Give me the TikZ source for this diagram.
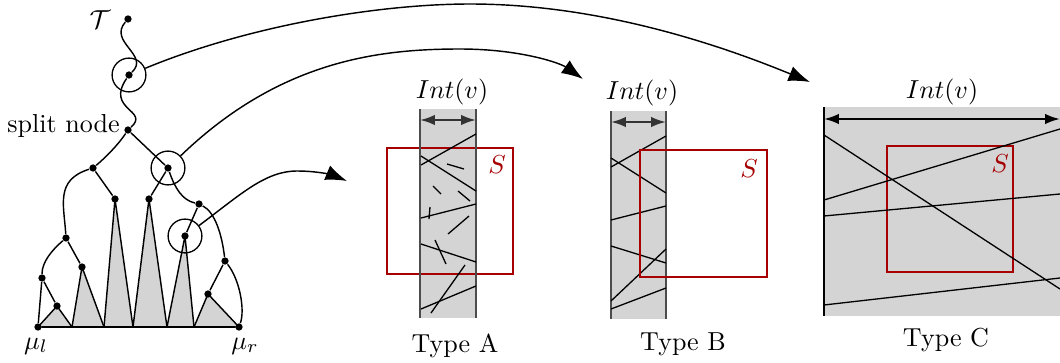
\documentclass[tikz,border=0pt]{standalone}
\usetikzlibrary{arrows.meta,backgrounds}

\begin{document}
\begin{tikzpicture}[x=0.0135cm,y=-0.0135cm,
    dot/.style={circle,fill=black,inner sep=0pt,minimum size=2.8pt},
    ring/.style={circle,draw,inner sep=0pt,minimum size=13pt,line width=0.5pt},
    link/.style={line width=0.55pt},
    cone/.style={fill=black!17,draw,line width=0.55pt,line join=round},
    seg/.style={line width=0.5pt},
    wall/.style={draw=black!70,line width=0.8pt},
    query/.style={draw=red!65!black,line width=0.4pt},
    intarrow/.style={{Latex[length=2mm,width=1.4mm]}-{Latex[length=2mm,width=1.4mm]},line width=0.8pt},
    bigarrow/.style={-{Latex[length=2.9mm,width=2.1mm]},line width=0.55pt},
]
\useasboundingbox (0,0) rectangle (1060,363);

% tree nodes
\node[dot] (vT)  at (128,19)  {};
\node[dot] (v1)  at (129,75)  {};
\node[dot] (vs)  at (128,130) {};
\node[dot] (vl)  at (93,168)  {};
\node[dot] (vr)  at (168,168) {};
\node[dot] (vlm) at (115,199) {};
\node[dot] (vrm) at (149,199) {};
\node[dot] (vll) at (66,238)  {};
\node[dot] (vrr) at (199,204) {};
\node[dot] (vq)  at (185,236) {};
\node[dot] (vx)  at (42,278)  {};
\node[dot] (vy)  at (82,267)  {};
\node[dot] (vz)  at (57,306)  {};
\node[dot] (vu)  at (225,261) {};
\node[dot] (vw)  at (208,294) {};
\node[dot] (ml)  at (38,327)  {};
\node[dot] (mr)  at (239,327) {};

\node at (100,20) {$\mathcal{T}$};
\node[anchor=base east,inner sep=0pt] (splitlbl) at ([xshift=-3pt,yshift=-0.8pt]vs.center) {split node};
\node (mulbl) at (36,346) {$\mu_l$};
\node (murbl) at (245,346) {$\mu_r$};

% subtrees
\begin{scope}[on background layer]
\filldraw[cone] (vz.center) -- (38,327) -- (72,327) -- cycle;
\filldraw[cone] (vy.center) -- (72,327) -- (104,327) -- cycle;
\filldraw[cone] (vlm.center) -- (104,327) -- (133,327) -- cycle;
\filldraw[cone] (vrm.center) -- (133,327) -- (167,327) -- cycle;
\filldraw[cone] (vq.center) -- (167,327) -- (194,327) -- cycle;
\filldraw[cone] (vw.center) -- (194,327) -- (239,327) -- cycle;
\end{scope}
\draw[link] (ml) -- (mr);

% tree edges
\draw[link] (vT) .. controls (108,42) and (150,55) .. (v1);
\draw[link] (v1) .. controls (105,110) and (150,110) .. (vs);
\draw[link] (vs) .. controls (118,145) and (105,158) .. (vl);
\draw[link] (vs) -- (vr);
\draw[link] (vl) .. controls (55,180) and (64,205) .. (vll);
\draw[link] (vl) -- (vlm);
\draw[link] (vr) -- (vrm);
\draw[link] (vr) .. controls (175,188) and (182,200) .. (vrr);
\draw[link] (vrr) -- (vq);
\draw[link] (vrr) .. controls (215,212) and (222,235) .. (vu);
\draw[link] (vu) -- (vw);
\draw[link] (vu) .. controls (240,280) and (245,310) .. (mr);
\draw[link] (vll) .. controls (52,250) and (42,262) .. (vx);
\draw[link] (vll) -- (vy);
\draw[link] (vx) -- (ml);
\draw[link] (vx) -- (vz);

\node[ring] (c1) at (v1) {};
\node[ring] (c2) at (vr) {};
\node[ring] (c3) at (vq) {};

% arrows to the three types
\coordinate (tipC) at (810,82);
\coordinate (tipB) at (583,79);
\coordinate (tipA) at (347,181);
\draw[bigarrow] (c1) .. controls (250,25) and (380,4) .. (470,4) .. controls (600,4) and (720,45) .. (tipC);
\draw[bigarrow] (c2) .. controls (280,60) and (380,49) .. (460,49) .. controls (520,49) and (560,63) .. (tipB);
\draw[bigarrow] (c3) .. controls (240,195) and (265,171) .. (297,171) .. controls (320,171) and (335,176) .. (tipA);

% Type A
\fill[black!17] (420,109) rectangle (476,318);
\draw[query] (387,148) rectangle (513,274);
\draw[wall] (420,109) -- (420,318);
\draw[wall] (476,109) -- (476,318);
\coordinate (aL) at (420,120);
\coordinate (aR) at (476,120);
\draw[intarrow,black!80] (aL) -- (aR);
\draw[seg] (421,165) -- (476,134);
\draw[seg] (421,156) -- (476,191);
\draw[seg] (447,164) -- (464,169);
\draw[seg] (433,186) -- (441,194);
\draw[seg] (458,191) -- (470,201);
\draw[seg] (421,218) -- (476,204);
\draw[seg] (430,207) -- (429,219);
\draw[seg] (448,234) -- (469,216);
\draw[seg] (421,244) -- (476,262);
\draw[seg] (435,240) -- (446,264);
\draw[seg] (431,313) -- (465,265);
\draw[seg] (421,309) -- (476,286);
\node (intA) at (452,92) {$Int(v)$};
\node[red!65!black] (sA) at (497,165) {$S$};
\node (typeA) at (455,346) {Type A};

% Type B
\fill[black!17] (611,111) rectangle (666,319);
\draw[wall] (611,111) -- (611,319);
\draw[wall] (666,111) -- (666,319);
\coordinate (bL) at (611,122);
\coordinate (bR) at (666,122);
\draw[intarrow,black!80] (bL) -- (bR);
\draw[seg] (611,167) -- (666,136);
\draw[seg] (611,158) -- (666,193);
\draw[seg] (611,220) -- (666,206);
\draw[seg] (611,246) -- (666,263);
\draw[seg] (611,301) -- (666,249);
\draw[seg] (611,309) -- (666,288);
\draw[query] (640,150) rectangle (767,277);
\node (intB) at (642,93) {$Int(v)$};
\node[red!65!black] (sB) at (749,169) {$S$};
\node (typeB) at (683,344) {Type B};

% Type C
\fill[black!17] (824,107) rectangle (1060,316);
\draw[line width=0.6pt] (824,107) -- (824,316);
\coordinate (cL) at (824,119);
\coordinate (cR) at (1060,119);
\draw[intarrow] (cL) -- (cR);
\draw[query] (887,146) rectangle (1013,272);
\draw[seg] (824,135) -- (1060,289);
\draw[seg] (824,200) -- (1060,129);
\draw[seg] (824,216) -- (1060,194);
\draw[seg] (824,305) -- (1060,278);
\node (intC) at (942,92) {$Int(v)$};
\node[red!65!black] (sC) at (1000,164) {$S$};
\node (typeC) at (946,340) {Type C};
\end{tikzpicture}
\end{document}
